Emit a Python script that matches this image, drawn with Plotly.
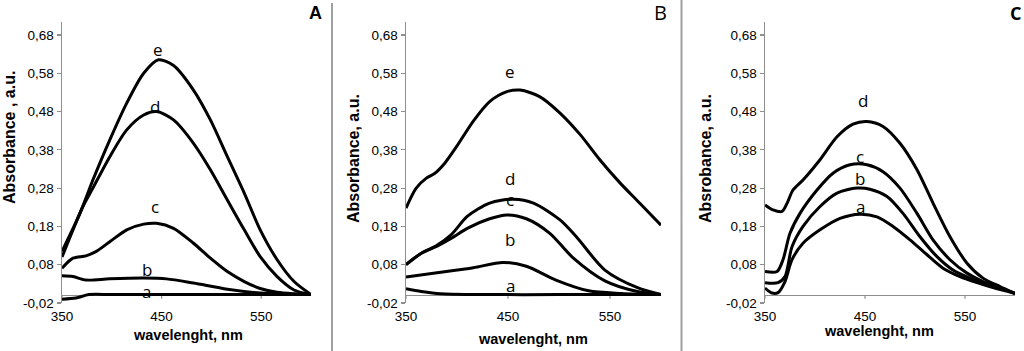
import plotly.graph_objects as go

# ---------------- data ----------------
ytick_vals = [-0.02, 0.08, 0.18, 0.28, 0.38, 0.48, 0.58, 0.68]
ytick_text = ["-0,02", "0,08", "0,18", "0,28", "0,38", "0,48", "0,58", "0,68"]
xtick_vals = [350, 450, 550]
xtick_text = ["350", "450", "550"]

# Panel A
A_e_wl = [350, 368, 381, 398, 415, 432, 447, 462, 482, 499, 516, 533, 549, 566, 583, 600]
A_e = [0.115, 0.214, 0.301, 0.406, 0.502, 0.58, 0.615, 0.60, 0.536, 0.458, 0.362, 0.267, 0.171, 0.093, 0.036, 0.002]
A_d_wl = [350, 361, 371, 381, 398, 415, 432, 445, 462, 482, 499, 516, 533, 549, 566, 583, 600]
A_d = [0.10, 0.171, 0.232, 0.28, 0.362, 0.432, 0.471, 0.48, 0.458, 0.397, 0.328, 0.249, 0.171, 0.101, 0.049, 0.014, 0.002]
A_c_wl = [350, 361, 374, 384, 398, 415, 432, 445, 462, 482, 499, 516, 533, 549, 566, 583, 600]
A_c = [0.071, 0.097, 0.103, 0.114, 0.14, 0.171, 0.186, 0.188, 0.175, 0.136, 0.097, 0.062, 0.036, 0.018, 0.008, 0.004, 0.002]
A_b_wl = [350, 361, 374, 398, 432, 455, 482, 516, 549, 583, 600]
A_b = [0.051, 0.049, 0.04, 0.043, 0.045, 0.043, 0.032, 0.016, 0.006, 0.003, 0.002]
A_a_wl = [350, 364, 377, 400, 450, 500, 550, 600]
A_a = [-0.01, -0.007, 0.002, 0.002, 0.002, 0.002, 0.002, 0.002]

# Panel B
B_e_wl = [350, 360, 370, 378, 388, 400, 416, 432, 449, 462, 481, 501, 521, 540, 560, 579, 600]
B_e = [0.228, 0.28, 0.306, 0.318, 0.345, 0.39, 0.455, 0.506, 0.532, 0.536, 0.519, 0.476, 0.419, 0.354, 0.293, 0.241, 0.183]
B_d_wl = [350, 365, 380, 395, 410, 432, 455, 475, 501, 517, 545, 577, 600]
B_d = [0.08, 0.11, 0.13, 0.16, 0.206, 0.241, 0.251, 0.241, 0.197, 0.153, 0.066, 0.02, 0.002]
B_c_wl = [350, 365, 380, 395, 410, 432, 449, 468, 491, 513, 545, 577, 600]
B_c = [0.08, 0.11, 0.128, 0.15, 0.175, 0.2, 0.21, 0.2, 0.162, 0.1, 0.038, 0.01, 0.002]
B_b_wl = [350, 384, 416, 445, 468, 497, 529, 561, 600]
B_b = [0.048, 0.06, 0.072, 0.086, 0.076, 0.04, 0.012, 0.005, 0.002]
B_a_wl = [350, 365, 384, 420, 500, 600]
B_a = [0.017, 0.01, 0.004, 0.002, 0.002, 0.002]

# Panel C
C_d_wl = [350, 358, 367, 372, 378, 388, 405, 422, 438, 452, 468, 485, 502, 518, 535, 552, 568, 585, 600]
C_d = [0.236, 0.223, 0.219, 0.24, 0.275, 0.301, 0.354, 0.414, 0.447, 0.454, 0.441, 0.397, 0.328, 0.241, 0.153, 0.084, 0.045, 0.023, 0.005]
C_c_wl = [350, 362, 368, 375, 385, 402, 418, 435, 452, 468, 485, 502, 518, 535, 552, 568, 585, 600]
C_c = [0.062, 0.062, 0.093, 0.162, 0.214, 0.275, 0.319, 0.341, 0.341, 0.323, 0.28, 0.214, 0.145, 0.093, 0.058, 0.036, 0.02, 0.005]
C_b_wl = [350, 363, 370, 377, 388, 405, 422, 442, 455, 472, 488, 505, 522, 538, 555, 572, 588, 600]
C_b = [0.033, 0.033, 0.049, 0.127, 0.18, 0.232, 0.267, 0.28, 0.277, 0.258, 0.214, 0.153, 0.101, 0.066, 0.045, 0.03, 0.017, 0.005]
C_a_wl = [350, 357, 363, 370, 377, 388, 405, 425, 445, 462, 478, 495, 512, 528, 545, 562, 578, 600]
C_a = [0.019, 0.006, 0.007, 0.036, 0.093, 0.136, 0.171, 0.201, 0.212, 0.205, 0.18, 0.145, 0.106, 0.071, 0.049, 0.033, 0.02, 0.005]

panels = [
    [("a", A_a_wl, A_a), ("b", A_b_wl, A_b), ("c", A_c_wl, A_c), ("d", A_d_wl, A_d), ("e", A_e_wl, A_e)],
    [("a", B_a_wl, B_a), ("b", B_b_wl, B_b), ("c", B_c_wl, B_c), ("d", B_d_wl, B_d), ("e", B_e_wl, B_e)],
    [("a", C_a_wl, C_a), ("b", C_b_wl, C_b), ("c", C_c_wl, C_c), ("d", C_d_wl, C_d)],
]

# curve labels: (panel, text, wavelength, absorbance)
labels = [
    (0, "e", 446, 0.641), (0, "d", 443, 0.493), (0, "c", 443, 0.232), (0, "b", 435, 0.068), (0, "a", 435, 0.010),
    (1, "e", 452, 0.584), (1, "d", 452, 0.305), (1, "c", 452, 0.249), (1, "b", 452, 0.145), (1, "a", 452, 0.027),
    (2, "d", 448, 0.51), (2, "c", 445, 0.362), (2, "b", 445, 0.306), (2, "a", 445, 0.232),
]
ytitles = ["Absorbance , a.u.", "Absorbance, a.u.", "Absrobance, a.u."]
xtitle = "wavelenght, nm"
panel_letters = ["A", "B", "C"]

# ---------------- layout ----------------
W, H = 1024, 351
def px(x):
    return x / W
def py(y):
    return 1 - y / H

x_domains = [(62, 311), (406, 661), (765, 1015)]
y_dom = (py(303), py(21.5))
YR = [-0.02, 0.715]

fig = go.Figure()
axis_font = dict(family="Liberation Sans, Arial", size=13.5, color="#000000")
shapes = []
for i, curves in enumerate(panels):
    xa = "x" if i == 0 else f"x{i+1}"
    ya = "y" if i == 0 else f"y{i+1}"
    for name, wl, vals in curves:
        fig.add_trace(go.Scatter(x=wl, y=vals, mode="lines", xaxis=xa, yaxis=ya,
                                 line=dict(color="black", width=3, shape="spline", smoothing=0.8),
                                 showlegend=False, hoverinfo="skip"))
    sfx = "" if i == 0 else str(i + 1)
    fig.layout["xaxis" + sfx] = dict(domain=[px(x_domains[i][0]), px(x_domains[i][1])], range=[350, 600],
                                     anchor=ya, tickvals=xtick_vals, ticktext=xtick_text,
                                     showline=False, ticks="outside", ticklen=1,
                                     tickcolor="rgba(0,0,0,0)", showgrid=False, zeroline=False,
                                     tickfont=axis_font, fixedrange=True, automargin=False)
    fig.layout["yaxis" + sfx] = dict(domain=list(y_dom), range=YR, anchor=xa,
                                     tickvals=ytick_vals, ticktext=ytick_text,
                                     showline=True, linecolor="#8f8f8f", linewidth=1.5, ticks="outside",
                                     ticklen=4, tickcolor="#8f8f8f", tickwidth=1.2, showgrid=False,
                                     zeroline=True, zerolinecolor="#8f8f8f", zerolinewidth=1.5,
                                     tickfont=axis_font, fixedrange=True, automargin=False)
    # small tick marks on the zero line
    for tv in xtick_vals:
        shapes.append(dict(type="line", xref=xa, yref=ya, x0=tv, x1=tv, y0=0, y1=-0.009,
                           line=dict(color="#8f8f8f", width=1.2), layer="below"))

annotations = []
for (p, t, xv, yv) in labels:
    xa = "x" if p == 0 else f"x{p+1}"
    ya = "y" if p == 0 else f"y{p+1}"
    annotations.append(dict(x=xv, y=yv, xref=xa, yref=ya, text=t, showarrow=False,
                            font=dict(family="Open Sans, Liberation Sans", size=17, color="black"),
                            xanchor="center", yanchor="middle"))

title_font = dict(family="Liberation Sans, Arial", size=14.5, color="#000000")
xt_x = [188, 533, 879]
xt_y = [335, 339, 331]
for i in range(3):
    annotations.append(dict(x=px(xt_x[i]), y=py(xt_y[i]), xref="paper", yref="paper", text="<b>" + xtitle + "</b>",
                            showarrow=False, font=title_font, xanchor="center", yanchor="middle"))
yt_x = [10, 354, 706]
yt_y = [138, 159, 159]
ytitle_font = dict(family="Liberation Sans, Arial", size=16, color="#000000")
for i in range(3):
    annotations.append(dict(x=px(yt_x[i]), y=py(yt_y[i]), xref="paper", yref="paper", text="<b>" + ytitles[i] + "</b>",
                            showarrow=False, font=ytitle_font, textangle=-90, xanchor="center", yanchor="middle"))
letter_specs = [
    (315, 13, "<b>A</b>", dict(family="Liberation Sans, Arial", size=18, color="black"), "center"),
    (660, 13, "B", dict(family="Open Sans", size=20, color="black"), "center"),
    (1023, 13, "<b>C</b>", dict(family="Open Sans", size=18, color="black"), "right"),
]
for lx, ly, txt, fnt, anc in letter_specs:
    annotations.append(dict(x=px(lx), y=py(ly), xref="paper", yref="paper", text=txt, showarrow=False,
                            font=fnt, xanchor=anc, yanchor="middle"))

shapes += [
    dict(type="line", xref="paper", yref="paper", x0=px(332), x1=px(332), y0=py(3), y1=0,
         line=dict(color="#a0a0a0", width=2)),
    dict(type="line", xref="paper", yref="paper", x0=px(681.5), x1=px(681.5), y0=1, y1=0,
         line=dict(color="#a0a0a0", width=2)),
]

fig.update_layout(width=W, height=H, margin=dict(l=0, r=0, t=0, b=0, autoexpand=False),
                  paper_bgcolor="white", plot_bgcolor="white",
                  annotations=annotations, shapes=shapes)

fig.write_html("out.html", config={"displayModeBar": False, "staticPlot": True},
               post_script="document.body.style.margin='0';document.body.style.overflow='hidden';")
